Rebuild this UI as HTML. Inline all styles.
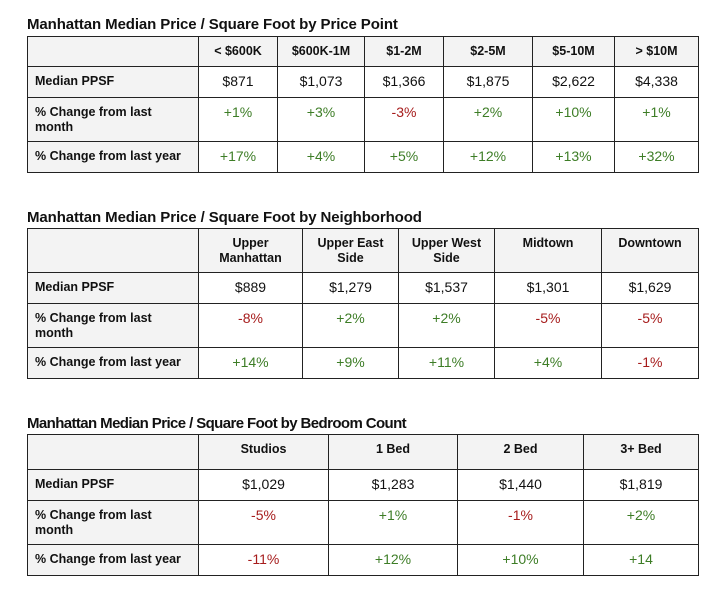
<!DOCTYPE html>
<html><head><meta charset="utf-8"><style>
body{margin:0;width:712px;height:602px;background:#fff;position:relative;font-family:"Liberation Sans",Arial,sans-serif;color:#111;overflow:hidden}
.title{position:absolute;left:27px;font-weight:bold;font-size:15px;letter-spacing:-0.1px;white-space:nowrap}
table{position:absolute;left:27px;border-collapse:collapse;table-layout:fixed}
td{border:1px solid #222;padding:7px 6px 0 6px;vertical-align:top;text-align:center;font-size:14px;line-height:15px;overflow:hidden}
tr:first-child td{background:#f3f3f3;font-weight:bold;font-size:12.5px}
td:first-child{background:#f3f3f3;font-weight:bold;font-size:12.5px;text-align:left;padding-left:7px;padding-right:12px}
.g{color:#3d7d26}.r{color:#a61c1c}
</style></head><body>
<div class="title" style="top:16px">Manhattan Median Price / Square Foot by Price Point</div>
<table style="top:36px;width:671px">
<colgroup><col style="width:171px"><col style="width:79px"><col style="width:87px"><col style="width:79px"><col style="width:89px"><col style="width:82px"><col style="width:84px"></colgroup>
<tr style="height:30px"><td></td><td>&lt; $600K</td><td>$600K-1M</td><td>$1-2M</td><td>$2-5M</td><td>$5-10M</td><td>&gt; $10M</td></tr>
<tr style="height:31px"><td>Median PPSF</td><td>$871</td><td>$1,073</td><td>$1,366</td><td>$1,875</td><td>$2,622</td><td>$4,338</td></tr>
<tr style="height:44px"><td>% Change from last month</td><td class="g">+1%</td><td class="g">+3%</td><td class="r">-3%</td><td class="g">+2%</td><td class="g">+10%</td><td class="g">+1%</td></tr>
<tr style="height:31px"><td>% Change from last year</td><td class="g">+17%</td><td class="g">+4%</td><td class="g">+5%</td><td class="g">+12%</td><td class="g">+13%</td><td class="g">+32%</td></tr>
</table>
<div class="title" style="top:209px">Manhattan Median Price / Square Foot by Neighborhood</div>
<table style="top:228px;width:671px">
<colgroup><col style="width:171px"><col style="width:104px"><col style="width:96px"><col style="width:96px"><col style="width:107px"><col style="width:97px"></colgroup>
<tr style="height:44px"><td></td><td style="padding:7px 14px 0 14px">Upper Manhattan</td><td>Upper East Side</td><td>Upper West Side</td><td>Midtown</td><td>Downtown</td></tr>
<tr style="height:31px"><td>Median PPSF</td><td>$889</td><td>$1,279</td><td>$1,537</td><td>$1,301</td><td>$1,629</td></tr>
<tr style="height:44px"><td>% Change from last month</td><td class="r">-8%</td><td class="g">+2%</td><td class="g">+2%</td><td class="r">-5%</td><td class="r">-5%</td></tr>
<tr style="height:31px"><td>% Change from last year</td><td class="g">+14%</td><td class="g">+9%</td><td class="g">+11%</td><td class="g">+4%</td><td class="r">-1%</td></tr>
</table>
<div class="title" style="top:415px;letter-spacing:-0.6px">Manhattan Median Price / Square Foot by Bedroom Count</div>
<table style="top:434px;width:671px">
<colgroup><col style="width:171px"><col style="width:130px"><col style="width:129px"><col style="width:126px"><col style="width:115px"></colgroup>
<tr style="height:35px"><td></td><td>Studios</td><td>1 Bed</td><td>2 Bed</td><td>3+ Bed</td></tr>
<tr style="height:31px"><td>Median PPSF</td><td>$1,029</td><td>$1,283</td><td>$1,440</td><td>$1,819</td></tr>
<tr style="height:44px"><td>% Change from last month</td><td class="r">-5%</td><td class="g">+1%</td><td class="r">-1%</td><td class="g">+2%</td></tr>
<tr style="height:31px"><td>% Change from last year</td><td class="r">-11%</td><td class="g">+12%</td><td class="g">+10%</td><td class="g">+14</td></tr>
</table>
</body></html>
